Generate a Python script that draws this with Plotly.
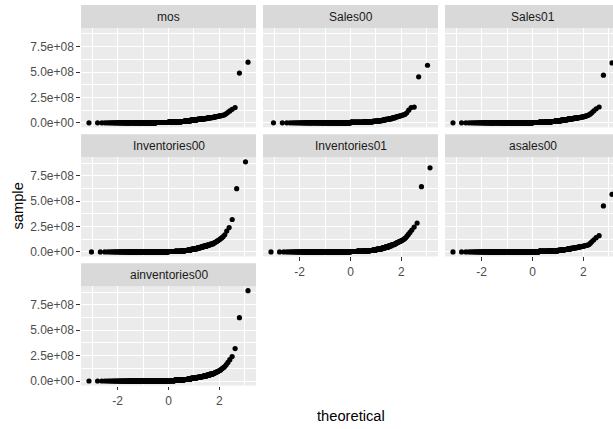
import numpy as np
import plotly.graph_objects as go
from statistics import NormalDist

# Sample values in millions. Each series: grouped lower/bulk observations
# (value, how many), followed by the individual observations of the upper tail.
mos_bulk_values = [0.4, 1.0, 1.8, 3.2, 6.5, 9.5, 13, 17, 21, 26, 30, 34, 38, 42, 46.5, 52]
mos_bulk_counts = [38, 52, 86, 109, 56, 53, 24, 23, 20, 19, 16, 14, 12, 10, 8, 7]
mos_tail = [55, 56, 57, 58, 59, 60, 61.5, 63, 64.5, 66, 68, 69.5, 71.5, 73.5,
            76, 81, 91, 103, 117, 133, 150, 490, 597]

sales00_bulk_values = [0.3, 0.6, 1.0, 1.8, 3.5, 5.8, 7.7, 9.2, 11, 13.5, 17, 22, 28, 34, 41, 49]
sales00_bulk_counts = [27, 38, 61, 79, 40, 38, 18, 16, 15, 13, 12, 10, 8, 8, 6, 5]
sales00_tail = [56, 58, 60, 63, 65, 68, 71, 75, 79, 84, 98, 125, 150, 155, 453, 567]

sales01_bulk_values = [0.3, 0.6, 1.0, 1.5, 3, 5, 7, 9.5, 13, 17, 21, 26, 30.5, 35.5, 40.5, 45.5]
sales01_bulk_counts = [38, 52, 86, 109, 56, 53, 24, 23, 20, 19, 16, 14, 12, 10, 8, 7]
sales01_tail = [48.3, 49.2, 50.2, 51.2, 52.2, 53.3, 54.5, 55.7, 57.1, 58.6, 60.9, 63,
                65.3, 69, 73, 79, 88, 101, 118, 138, 156, 469, 590]

inv00_bulk_values = [0.2, 0.4, 0.8, 2.0, 4, 6.5, 10, 14, 19, 25, 32, 40, 48, 57, 67, 78]
inv00_bulk_counts = [27, 38, 61, 79, 40, 38, 18, 16, 15, 13, 12, 10, 8, 8, 6, 5]
inv00_tail = [86, 90, 95, 100, 106, 112, 119, 128, 138, 150, 168, 205, 240, 319, 623, 887]

inv01_bulk_values = [0.2, 0.5, 1.0, 2.0, 4, 6.5, 9, 11, 14, 19, 25, 32, 40, 49, 60, 72]
inv01_bulk_counts = [38, 52, 86, 109, 56, 53, 24, 23, 20, 19, 16, 14, 12, 10, 8, 7]
inv01_tail = [81, 83, 86, 89, 92, 95, 98, 101, 104, 108, 112, 117, 123, 130,
              139, 155, 172, 192, 215, 245, 284, 642, 828]

asales00_bulk_values = [0.3, 0.6, 1.0, 1.5, 2.8, 4.8, 6.5, 7.5, 9, 11.5, 15, 19.5, 24, 29.5, 35, 41]
asales00_bulk_counts = [38, 52, 86, 109, 56, 53, 24, 23, 20, 19, 16, 14, 12, 10, 8, 7]
asales00_tail = [44.5, 45.5, 46.5, 47.5, 48.7, 50, 51.5, 53, 54.5, 56, 58, 60, 62.5, 65,
                 67.5, 72, 86, 102, 120, 140, 160, 453, 567]

ainv00_bulk_values = [0.2, 0.5, 1.0, 2.0, 4.5, 8, 11.5, 15, 19.5, 25, 31, 37, 43.5, 50, 57.5, 67]
ainv00_bulk_counts = [38, 52, 86, 109, 56, 53, 24, 23, 20, 19, 16, 14, 12, 10, 8, 7]
ainv00_tail = [73, 75, 77.5, 80, 83, 86, 89, 92, 96, 100, 103, 109, 117, 125, 134,
               145, 162, 183, 210, 241, 319, 623, 889]

panel_names = ["mos", "Sales00", "Sales01", "Inventories00", "Inventories01",
               "asales00", "ainventories00"]
panel_data = [
    (mos_bulk_values, mos_bulk_counts, mos_tail),
    (sales00_bulk_values, sales00_bulk_counts, sales00_tail),
    (sales01_bulk_values, sales01_bulk_counts, sales01_tail),
    (inv00_bulk_values, inv00_bulk_counts, inv00_tail),
    (inv01_bulk_values, inv01_bulk_counts, inv01_tail),
    (asales00_bulk_values, asales00_bulk_counts, asales00_tail),
    (ainv00_bulk_values, ainv00_bulk_counts, ainv00_tail),
]

y_tick_vals = [0, 2.5e8, 5.0e8, 7.5e8]
y_tick_text = ["0.0e+00", "2.5e+08", "5.0e+08", "7.5e+08"]
y_minor_vals = [1.25e8, 3.75e8, 6.25e8, 8.75e8]
x_tick_vals = [-2, 0, 2]
x_tick_text = ["-2", "0", "2"]
x_minor_vals = [-3, -1, 1, 3]

# facet_wrap-like grid geometry (pixels)
W, H = 613, 429
COL_LEFT = [81, 263, 445]
PANEL_W = 175
ROW_TOP = [28.15, 158.15, 288.15]
PANEL_H = 100.1
STRIP_H = 23
X_LIM = 3.443
Y_RANGE = [-44.5e6, 934e6]

FONT = "Liberation Sans, Arial, Helvetica, sans-serif"
TICK_FONT = dict(family=FONT, size=12, color="#4D4D4D")


def qq_points(bulk_values, bulk_counts, tail):
    sample = np.sort(np.concatenate([np.repeat(bulk_values, bulk_counts),
                                     np.array(tail, dtype=float)])) * 1e6
    n = sample.size
    nd = NormalDist()
    theo = np.array([nd.inv_cdf((i - 0.5) / n) for i in range(1, n + 1)])
    return theo, sample


fig = go.Figure()
layout = dict(shapes=[], annotations=[])
n_cols = 3
n_panels = len(panel_names)
bottom_of_col = {}
for idx in range(n_panels):
    bottom_of_col[idx % n_cols] = idx

for idx, (name, data) in enumerate(zip(panel_names, panel_data)):
    row, col = divmod(idx, n_cols)
    ax = idx + 1
    xname = "x" if ax == 1 else f"x{ax}"
    yname = "y" if ax == 1 else f"y{ax}"
    theo, sample = qq_points(*data)
    fig.add_trace(go.Scatter(
        x=theo, y=sample, mode="markers", xaxis=xname, yaxis=yname,
        marker=dict(color="black", size=5.2, line=dict(width=0)),
        showlegend=False, hoverinfo="skip", cliponaxis=True))

    left = COL_LEFT[col]
    right = min(left + PANEL_W, W)
    top = ROW_TOP[row]
    x_hi = -X_LIM + (right - left) / PANEL_W * 2 * X_LIM
    show_x = bottom_of_col[col] == idx
    show_y = col == 0

    layout["xaxis" if ax == 1 else f"xaxis{ax}"] = dict(
        domain=[left / W, right / W], anchor=yname, range=[-X_LIM, x_hi],
        tickmode="array", tickvals=x_tick_vals, ticktext=x_tick_text,
        showticklabels=show_x, ticks="outside" if show_x else "",
        ticklen=3.7, tickwidth=1.07, tickcolor="#333333", tickfont=TICK_FONT,
        showgrid=True, gridcolor="white", gridwidth=1.1, zeroline=False,
        showline=False, fixedrange=True,
        minor=dict(tickmode="array", tickvals=x_minor_vals, showgrid=True,
                   gridcolor="white", gridwidth=0.55, ticks=""))
    layout["yaxis" if ax == 1 else f"yaxis{ax}"] = dict(
        domain=[1 - (top + PANEL_H) / H, 1 - top / H], anchor=xname, range=Y_RANGE,
        tickmode="array", tickvals=y_tick_vals, ticktext=y_tick_text,
        showticklabels=show_y, ticks="outside" if show_y else "",
        ticklen=3.7, tickwidth=1.07, tickcolor="#333333", tickfont=TICK_FONT,
        showgrid=True, gridcolor="white", gridwidth=1.1, zeroline=False,
        showline=False, fixedrange=True,
        minor=dict(tickmode="array", tickvals=y_minor_vals, showgrid=True,
                   gridcolor="white", gridwidth=0.55, ticks=""))

    # facet strip
    layout["shapes"].append(dict(
        type="rect", xref="paper", yref="paper", x0=left / W, x1=right / W,
        y0=1 - top / H, y1=1 - (top - STRIP_H) / H,
        fillcolor="#D9D9D9", line=dict(width=0), layer="below"))
    layout["annotations"].append(dict(
        text=name, xref="paper", yref="paper",
        x=(left + PANEL_W / 2) / W, y=1 - (top - STRIP_H / 2) / H,
        xanchor="center", yanchor="middle", showarrow=False,
        font=dict(family=FONT, size=12, color="#1A1A1A")))

# axis titles
layout["annotations"].append(dict(
    text="theoretical", xref="paper", yref="paper", x=350.5 / W, y=1 - 419 / H,
    xanchor="center", yanchor="middle", showarrow=False,
    font=dict(family=FONT, size=14.7, color="black")))
layout["annotations"].append(dict(
    text="sample", xref="paper", yref="paper", x=18 / W, y=1 - 208 / H,
    xanchor="center", yanchor="middle", showarrow=False, textangle=-90,
    font=dict(family=FONT, size=14.7, color="black")))

fig.update_layout(
    width=W, height=H, autosize=False,
    margin=dict(l=0, r=0, t=0, b=0, pad=0),
    paper_bgcolor="white", plot_bgcolor="#EBEBEB",
    font=dict(family=FONT),
    **layout)

fig.write_html("out.html", config={"displayModeBar": False})
